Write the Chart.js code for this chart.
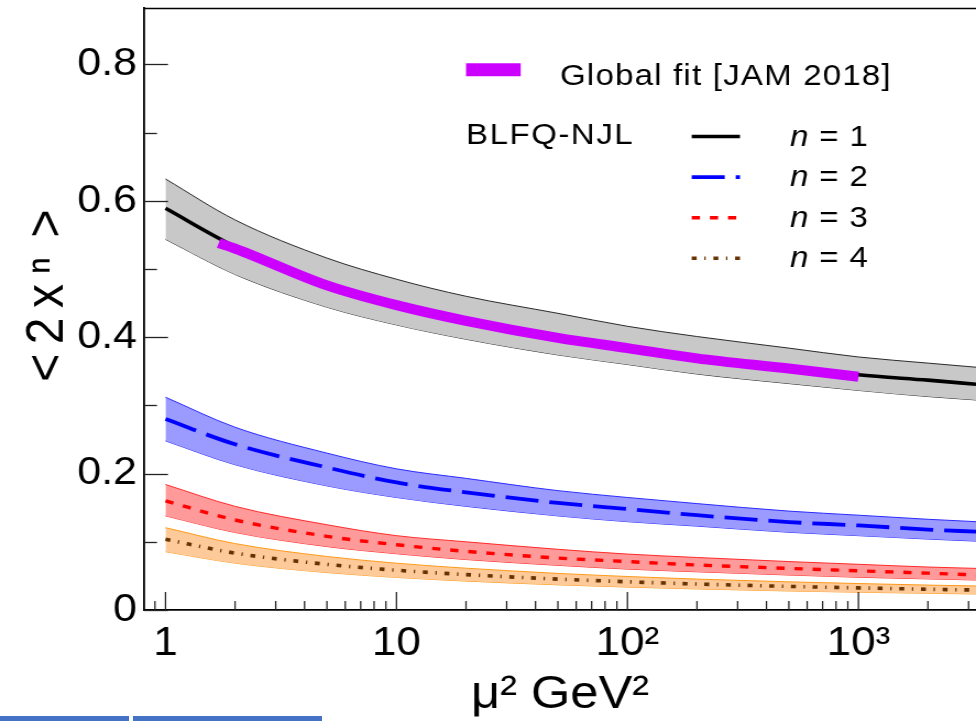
<!DOCTYPE html>
<html><head><meta charset="utf-8">
<script src="https://cdn.jsdelivr.net/npm/chart.js@4.4.1/dist/chart.umd.min.js"></script>
<style>
html,body{margin:0;padding:0;background:#fff;overflow:hidden;}
#wrap{position:relative;width:976px;height:721px;background:#fff;}
#c{position:absolute;left:0;top:0;}
.bar{position:absolute;background:#4472c4;height:5px;top:716px;}
</style></head><body>
<div id="wrap">
<canvas id="c" width="887" height="721" style="width:976px;height:721px"></canvas>
<div class="bar" style="left:0;width:129px"></div>
<div class="bar" style="left:133px;width:189px"></div>
</div>
<script>
// ---------- data ----------
const muSq = [1, 2, 5, 10, 20, 50, 100, 200, 500, 1000, 2000, 3230];
const n1   = [0.589, 0.533, 0.479, 0.450, 0.427, 0.402, 0.387, 0.372, 0.357, 0.345, 0.337, 0.331];
const n1Up = [0.632, 0.572, 0.516, 0.485, 0.460, 0.435, 0.416, 0.401, 0.384, 0.371, 0.362, 0.356];
const n1Lo = [0.5435, 0.492, 0.444, 0.418, 0.397, 0.374, 0.360, 0.346, 0.332, 0.322, 0.313, 0.308];
const n2   = [0.280, 0.243, 0.209, 0.187, 0.1725, 0.157, 0.148, 0.139, 0.129, 0.124, 0.118, 0.1148];
const n2Up = [0.312, 0.268, 0.230, 0.207, 0.193, 0.175, 0.165, 0.156, 0.145, 0.139, 0.133, 0.1295];
const n2Lo = [0.248, 0.213, 0.182, 0.165, 0.152, 0.138, 0.1295, 0.123, 0.114, 0.109, 0.104, 0.101];
const n3   = [0.160, 0.132, 0.108, 0.0957, 0.086, 0.0762, 0.071, 0.066, 0.061, 0.0575, 0.054, 0.0513];
const n3Up = [0.184, 0.152, 0.125, 0.109, 0.100, 0.089, 0.082, 0.077, 0.071, 0.067, 0.063, 0.061];
const n3Lo = [0.138, 0.1137, 0.093, 0.0825, 0.074, 0.0655, 0.060, 0.056, 0.0513, 0.048, 0.0456, 0.044];
const n4   = [0.1036, 0.0834, 0.0669, 0.0583, 0.0519, 0.0453, 0.0414, 0.0381, 0.0346, 0.0324, 0.0304, 0.0293];
const n4Up = [0.1207, 0.0974, 0.0785, 0.0686, 0.0613, 0.0537, 0.0491, 0.0453, 0.0413, 0.0388, 0.0365, 0.0352];
const n4Lo = [0.0855, 0.0687, 0.0549, 0.0478, 0.0424, 0.0369, 0.0336, 0.0309, 0.0279, 0.0261, 0.0245, 0.0235];
const jamMu = [1.7, 2, 5, 10, 20, 50, 100, 200, 500, 1000];
const jam   = [0.538, 0.530, 0.476, 0.447, 0.424, 0.399, 0.384, 0.369, 0.354, 0.342];

const yTickVals = [0, 0.2, 0.4, 0.6, 0.8];
const yTickLabels = ['0', '0.2', '0.4', '0.6', '0.8'];
const yMinorVals = [0.1, 0.3, 0.5, 0.7];
const xTickVals = [1, 10, 100, 1000];
const xTickLabels = ['1', '10', '10\u00B2', '10\u00B3'];
const xMinorVals = [0.9, 2, 3, 4, 5, 6, 7, 8, 9, 20, 30, 40, 50, 60, 70, 80, 90,
                    200, 300, 400, 500, 600, 700, 800, 900, 2000, 3000];
const legendLabels = ['1', '2', '3', '4'];
const jamLabel = 'Global fit [JAM 2018]';
const modelLabel = 'BLFQ-NJL';
const xTitle = '\u03BC\u00B2 GeV\u00B2';
const yTitle = '<\u20092\u2009x\u2009\u207F\u2009\u2009>';

// ---------- helpers ----------
const S = 976 / 887; // horizontal stretch of the picture
const pts = (xs, ys) => xs.map((x, i) => ({x: x, y: ys[i]}));
const FONT = "'Liberation Sans', Arial, Helvetica, sans-serif";
Chart.defaults.font.family = FONT;
Chart.defaults.color = '#000';

const band = (up, lo, fillCol, edgeCol) => ([
  {data: pts(muSq, up), borderColor: edgeCol, borderWidth: 1, backgroundColor: fillCol, fill: '+1', order: 20},
  {data: pts(muSq, lo), borderColor: edgeCol, borderWidth: 1, fill: false, order: 20}
]);

const datasets = [
  ...band(n1Up, n1Lo, '#c8c8c8', '#2a2a2a'),
  ...band(n2Up, n2Lo, '#9a9aff', '#2b2bff'),
  ...band(n3Up, n3Lo, '#ff9a9a', '#ff2b2b'),
  ...band(n4Up, n4Lo, '#ffca9a', '#ff9a1a'),
  {label: 'n = 1', data: pts(muSq, n1), borderColor: '#000000', borderWidth: 3.6, fill: false, order: 5},
  {label: 'n = 2', data: pts(muSq, n2), borderColor: '#0000ff', borderWidth: 3.8, borderDash: [30, 10], fill: false, order: 4},
  {label: 'n = 3', data: pts(muSq, n3), borderColor: '#ff0000', borderWidth: 3.4, borderDash: [7.5, 9], fill: false, order: 3},
  {label: 'n = 4', data: pts(muSq, n4), borderColor: '#663300', borderWidth: 3.6, borderDash: [4.5, 7, 1.2, 7], fill: false, order: 2},
  {label: jamLabel, data: pts(jamMu, jam), borderColor: '#cc00ff', borderWidth: 10, borderCapStyle: 'butt', fill: false, order: 1}
];

// inward tick marks, top frame and legend
const decor = {
  id: 'decor',
  afterDatasetsDraw(chart) {
    const ctx = chart.ctx, ca = chart.chartArea;
    const xs = chart.scales.x, ys = chart.scales.y;
    ctx.save();
    ctx.strokeStyle = '#222';
    // y ticks
    ctx.lineWidth = 1.3;
    const yt = (v, len) => {
      const p = Math.round(ys.getPixelForValue(v)) + 0.5;
      ctx.beginPath(); ctx.moveTo(ca.left, p); ctx.lineTo(ca.left + len / S, p); ctx.stroke();
    };
    yTickVals.forEach(v => yt(v, 24));
    yMinorVals.forEach(v => yt(v, 13));
    // x ticks
    ctx.lineWidth = 1.4 / S;
    const xt = (v, len) => {
      const p = xs.getPixelForValue(v);
      ctx.beginPath(); ctx.moveTo(p, ca.bottom); ctx.lineTo(p, ca.bottom - len); ctx.stroke();
    };
    xTickVals.forEach(v => xt(v, 18));
    xMinorVals.forEach(v => xt(v, 9));
    // top frame
    ctx.strokeStyle = '#000';
    ctx.lineWidth = 1.5;
    ctx.beginPath(); ctx.moveTo(ca.left, ca.top + 0.5); ctx.lineTo(ca.right, ca.top + 0.5); ctx.stroke();

    // legend
    const ds = chart.data.datasets;
    const jamDs = ds[ds.length - 1];
    ctx.lineCap = 'butt';
    ctx.strokeStyle = jamDs.borderColor;
    ctx.lineWidth = 13;
    ctx.beginPath(); ctx.moveTo(466 / S, 69.7); ctx.lineTo(520.7 / S, 69.7); ctx.stroke();
    ctx.fillStyle = '#000';
    ctx.textBaseline = 'alphabetic';
    ctx.textAlign = 'left';
    ctx.letterSpacing = '1.1px';
    ctx.font = '30px ' + FONT;
    ctx.fillText(jamLabel, 560 / S, 85);
    ctx.letterSpacing = '1.4px';
    ctx.fillText(modelLabel, 466 / S, 144);
    ctx.letterSpacing = '0.8px';
    for (let i = 0; i < 4; i++) {
      const d = ds[8 + i];
      const ly = 136.5 + 40.6 * i;
      ctx.strokeStyle = d.borderColor;
      ctx.lineWidth = d.borderWidth;
      ctx.setLineDash(d.borderDash || []);
      ctx.beginPath(); ctx.moveTo(691.7 / S, ly); ctx.lineTo(740 / S, ly); ctx.stroke();
      ctx.setLineDash([]);
      const by = 145.5 + 40.5 * i;
      ctx.font = 'italic 30px ' + FONT;
      ctx.fillText('n', 790 / S, by);
      const w = ctx.measureText('n').width;
      ctx.font = '30px ' + FONT;
      ctx.fillText(' = ' + legendLabels[i], 790 / S + w, by);
    }
    ctx.letterSpacing = '0px';
    ctx.restore();
  }
};

const chart = new Chart(document.getElementById('c'), {
  type: 'line',
  data: {datasets: datasets},
  options: {
    responsive: false,
    animation: false,
    devicePixelRatio: 1,
    layout: {padding: {top: 8, left: 0, right: 0, bottom: 0}},
    elements: {point: {radius: 0}, line: {tension: 0.4, cubicInterpolationMode: 'monotone'}},
    plugins: {legend: {display: false}, tooltip: {enabled: false}},
    scales: {
      x: {
        type: 'logarithmic', min: 0.807, max: 3230, position: 'bottom',
        grid: {display: false, drawTicks: false},
        border: {display: true, color: '#000', width: 1.7},
        ticks: {autoSkip: false, maxRotation: 0, padding: 10, color: '#000', font: {size: 40},
                callback: (v, i) => xTickLabels[i]},
        afterBuildTicks: s => { s.ticks = xTickVals.map(v => ({value: v})); },
        afterFit: s => { s.height = 111; s.paddingLeft = 0; s.paddingRight = 0; },
        title: {display: true, text: xTitle, color: '#000', font: {size: 46, lineHeight: 1.1}, padding: {top: 0, bottom: 0}}
      },
      y: {
        type: 'linear', min: 0, max: 0.8827, position: 'left',
        grid: {display: false, drawTicks: false},
        border: {display: true, color: '#000', width: 2 / S},
        ticks: {autoSkip: false, padding: 6.4, color: '#000', font: {size: 39},
                callback: (v, i) => yTickLabels[i]},
        afterBuildTicks: s => { s.ticks = yTickVals.map(v => ({value: v})); },
        afterFit: s => { s.width = 144 / S; s.paddingTop = 0; s.paddingBottom = 0; },
        title: {display: true, text: '  ' + yTitle, color: '#000', font: {size: 48, lineHeight: 1.2}, padding: {top: 15, bottom: 0}}
      }
    }
  },
  plugins: [decor]
});
document.getElementById('c').style.width = '976px';
document.getElementById('c').style.height = '721px';
</script>
</body></html>
